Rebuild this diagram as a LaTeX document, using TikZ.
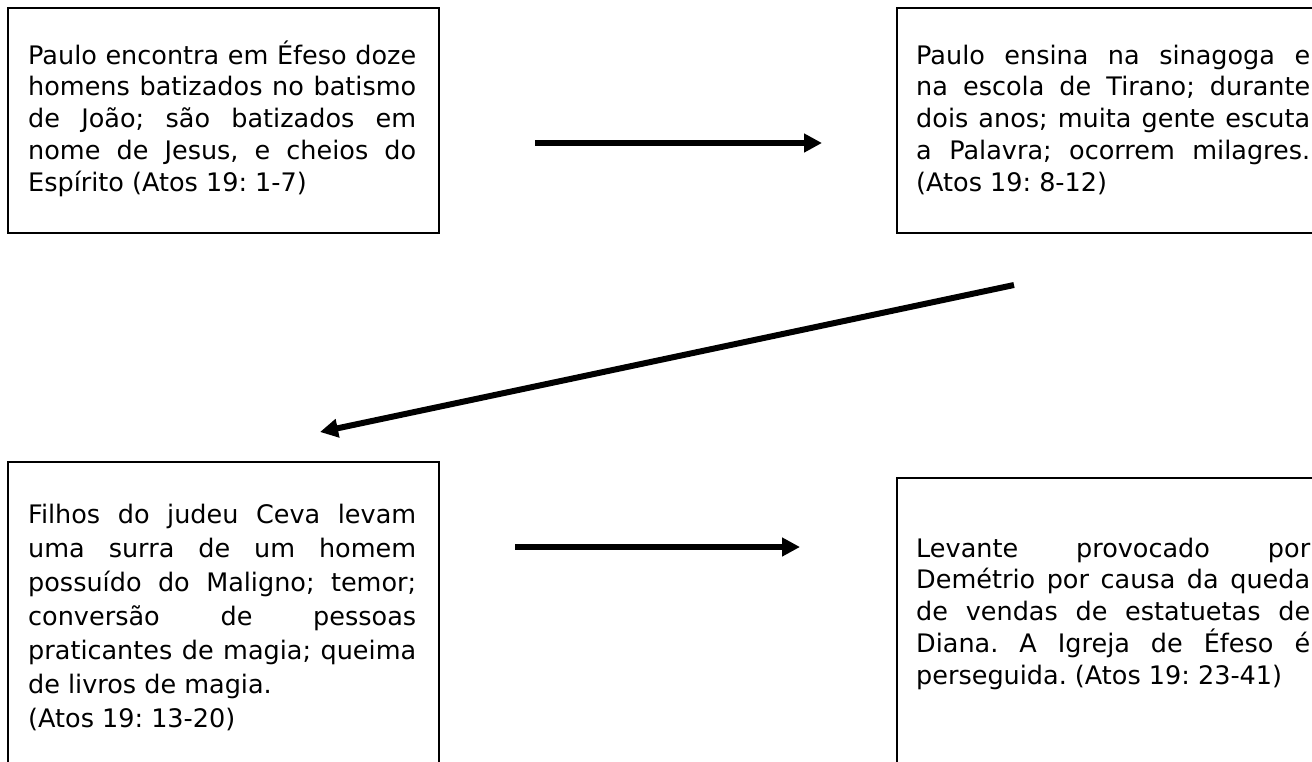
\documentclass[tikz,border=0pt]{standalone}
\usepackage{fontspec}
\setmainfont{DejaVu Sans}
\usetikzlibrary{arrows.meta}
\frenchspacing
% linha justificada na largura da caixa
\newcommand{\linha}[1]{\makebox[\hsize][s]{#1}\\}

\begin{document}
\begin{tikzpicture}[x=1pt, y=-1pt, >={Triangle[length=18pt,width=18pt]},
  caixa/.style={draw, line width=1.6pt},
  texto/.style={anchor=north west, inner sep=0pt, text width=388pt, align=justify,
    font=\fontsize{25.5}{31.7}\selectfont},
  seta/.style={->, line width=6pt}]
\useasboundingbox (0,0) rectangle (1312,761);
\clip (0,0) rectangle (1312,761);
% Caixas
\draw[caixa] (8,8) rectangle (439,233);
\draw[caixa] (897,8) rectangle (1330,233);
\draw[caixa] (8,462) rectangle (439,790);
\draw[caixa] (897,478) rectangle (1330,790);
% Textos
\node[texto] (efeso) at (28,39) {\rule{0pt}{25pt}%
  \linha{Paulo encontra em Éfeso doze}
  \linha{homens batizados no batismo}
  \linha{de João; são batizados em}
  \linha{nome de Jesus, e cheios do}
  Espírito (Atos 19: 1-7)};
\node[texto, text width=394pt] (tirano) at (916,39) {\rule{0pt}{25pt}%
  \linha{Paulo ensina na sinagoga e}
  \linha{na escola de Tirano; durante}
  \linha{dois anos; muita gente escuta}
  \linha{a Palavra; ocorrem milagres.}
  (Atos 19: 8-12)};
\node[texto, font=\fontsize{25.5}{34}\selectfont] (ceva) at (28,498) {\rule{0pt}{25pt}%
  \linha{Filhos do judeu Ceva levam}
  \linha{uma surra de um homem}
  \linha{possuído do Maligno; temor;}
  \linha{conversão de pessoas}
  \linha{praticantes de magia; queima}
  de livros de magia.\\
  (Atos 19: 13-20)};
\node[texto, text width=394pt] (demetrio) at (916,532) {\rule{0pt}{25pt}%
  \linha{Levante provocado por}
  \linha{Demétrio por causa da queda}
  \linha{de vendas de estatuetas de}
  \linha{Diana. A Igreja de Éfeso é}
  perseguida. (Atos 19: 23-41)};
% Setas
\coordinate (s1a) at (535,143);
\coordinate (s1b) at (822,143);
\coordinate (s2a) at (1014,285);
\coordinate (s2b) at (320,432);
\coordinate (s3a) at (515,547);
\coordinate (s3b) at (800,547);
\draw[seta] (s1a) -- (s1b);
\draw[seta] (s2a) -- (s2b);
\draw[seta] (s3a) -- (s3b);
\end{tikzpicture}
\end{document}
